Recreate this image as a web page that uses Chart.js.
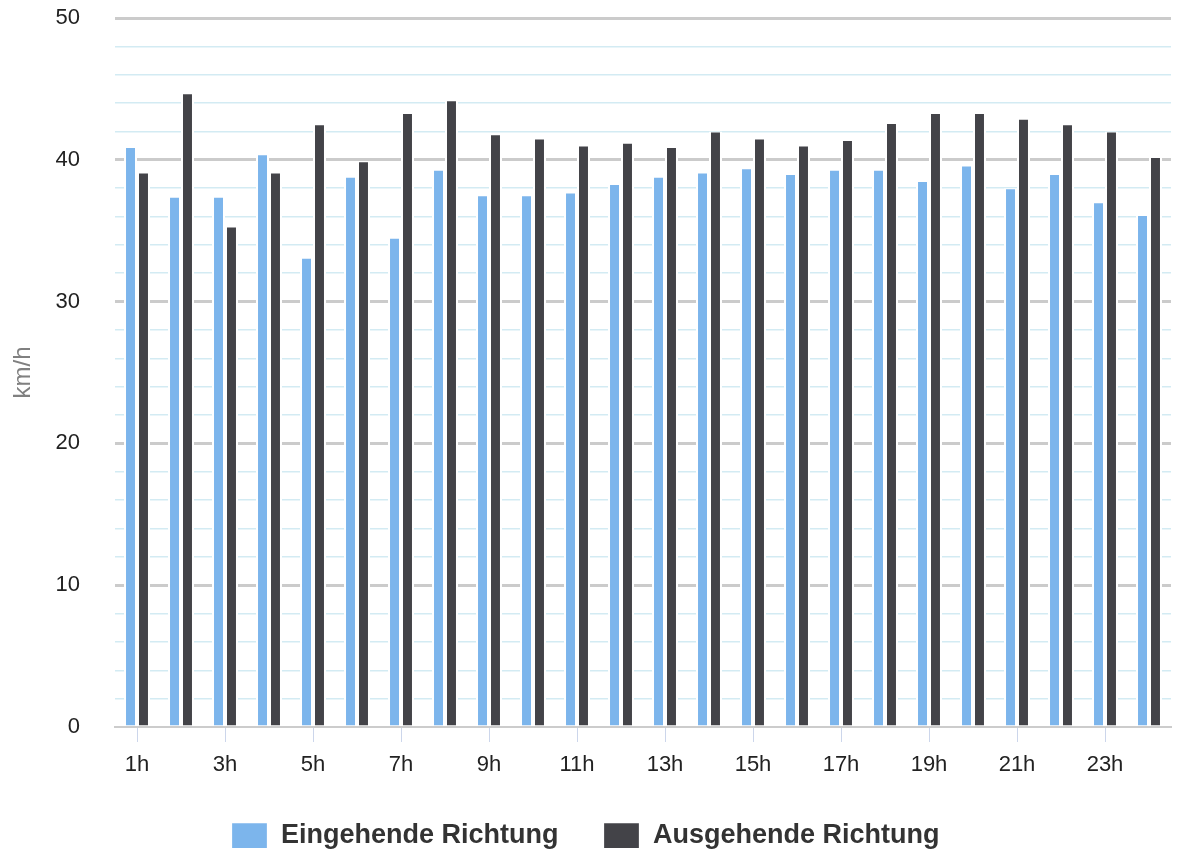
<!DOCTYPE html>
<html>
<head>
<meta charset="utf-8">
<script src="https://cdn.jsdelivr.net/npm/chart.js@4"></script>
<style>
html,body{margin:0;padding:0;background:#fff;}
#wrap{width:1180px;height:856px;position:relative;}
</style>
</head>
<body>
<div id="wrap"><canvas id="c"></canvas></div>
<script>
const hours = ['1h','2h','3h','4h','5h','6h','7h','8h','9h','10h','11h','12h','13h','14h','15h','16h','17h','18h','19h','20h','21h','22h','23h','24h'];
const inbound = [40.9, 37.4, 37.4, 40.4, 33.1, 38.8, 34.5, 39.3, 37.5, 37.5, 37.7, 38.3, 38.8, 39.1, 39.4, 39.0, 39.3, 39.3, 38.5, 39.6, 38.0, 39.0, 37.0, 36.1];
const outbound = [39.1, 44.7, 35.3, 39.1, 42.5, 39.9, 43.3, 44.2, 41.8, 41.5, 41.0, 41.2, 40.9, 42.0, 41.5, 41.0, 41.4, 42.6, 43.3, 43.3, 42.9, 42.5, 42.0, 40.2];
const seriesNames = ['Eingehende Richtung', 'Ausgehende Richtung'];
const yTitle = 'km/h';

Chart.defaults.font.family = '"Liberation Sans", Arial, sans-serif';
Chart.defaults.color = '#333333';

new Chart(document.getElementById('c'), {
  type: 'bar',
  data: {
    labels: hours,
    datasets: [
      { label: seriesNames[0], data: inbound, backgroundColor: '#7cb5ec', borderColor: '#ffffff',
        borderWidth: {left: 2, right: 2, top: 1, bottom: 0}, borderSkipped: 'start' },
      { label: seriesNames[1], data: outbound, backgroundColor: '#434348', borderColor: '#ffffff',
        borderWidth: {left: 2, right: 2, top: 1, bottom: 0}, borderSkipped: 'start' }
    ]
  },
  options: {
    responsive: true,
    maintainAspectRatio: false,
    animation: false,
    devicePixelRatio: 1,
    layout: { padding: { top: 18, right: 9, bottom: -3, left: 0 } },
    datasets: { bar: { categoryPercentage: 0.59, barPercentage: 1.0 } },
    plugins: {
      tooltip: { enabled: false },
      legend: {
        position: 'bottom',
        labels: {
          boxWidth: 36, boxHeight: 26, padding: 45,
          color: '#333333',
          font: { size: 27, weight: 'bold' }
        }
      }
    },
    scales: {
      x: {
        afterFit: (s) => { s.height = 50; },
        grid: {
          drawOnChartArea: false,
          offset: false,
          tickLength: 15,
          tickWidth: 1,
          tickColor: (ctx) => (ctx.index % 2 === 0 ? '#ccd6eb' : 'rgba(0,0,0,0)')
        },
        border: { color: '#cccccc', width: 2 },
        ticks: {
          autoSkip: false, maxRotation: 0, padding: 10,
          color: '#222222',
          font: { size: 22 },
          callback: function(v, i) { return i % 2 === 0 ? this.getLabelForValue(v) : ''; }
        }
      },
      y: {
        min: 0, max: 50,
        afterFit: (s) => { s.width = 115; },
        border: { display: false },
        grid: {
          drawTicks: true,
          tickLength: 33,
          tickColor: 'rgba(0,0,0,0)',
          color: (ctx) => {
            const v = ctx.tick ? ctx.tick.value : 0;
            if (v === 0) return 'rgba(0,0,0,0)';
            return v % 10 === 0 ? '#cbcbcb' : '#d3ebf3';
          },
          lineWidth: (ctx) => {
            const v = ctx.tick ? ctx.tick.value : 0;
            return v % 10 === 0 ? 3 : 1.5;
          }
        },
        ticks: {
          stepSize: 2, autoSkip: false, padding: 2,
          color: '#222222',
          font: { size: 22 },
          callback: (v) => (v % 10 === 0 ? String(v) : '')
        },
        title: {
          display: true, text: yTitle, color: '#808080',
          font: { size: 24 },
          padding: { top: 9, bottom: 0 }
        }
      }
    }
  }
});
</script>
</body>
</html>
